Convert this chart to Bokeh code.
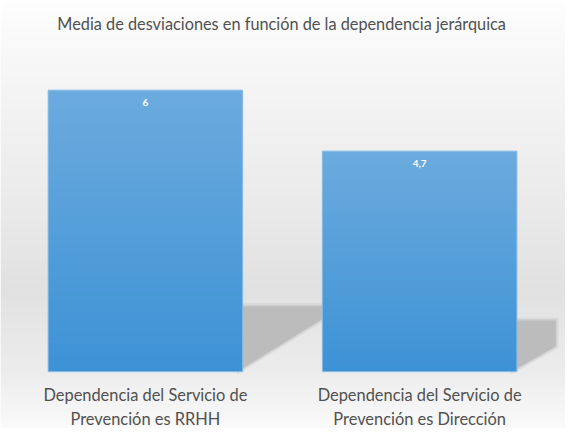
import numpy as np
from bokeh.plotting import figure
from bokeh.models import ColumnDataSource, Range1d
from bokeh.core.properties import value
from bokeh.embed import file_html
from bokeh.resources import INLINE

# ---- data ----
title_text = "Media de desviaciones en función de la dependencia jerárquica"
categories = ["Dependencia del Servicio de\nPrevención es RRHH",
              "Dependencia del Servicio de\nPrevención es Dirección"]
values = [6.0, 4.7]
value_labels = ["6", "4,7"]

# ---- layout / style ----
W, H = 565, 428
SX, SY = W / 581.0, H / 444.0          # reference -> figure scale
PX_X = 282.0 * SX                      # pixels per x unit
X0_PX = 149.0 * SX - 0.5 * PX_X        # pixel column of x = 0
BASE_PX = 385.0 * SY                   # pixel row of y = 0
PX_Y = (292.0 * SY) / 6.0              # pixels per y unit
FONT = "Lato"

def yd(ref_px):
    return (BASE_PX - ref_px * SY) / PX_Y

def hex2rgb(h):
    h = h.lstrip("#")
    return np.array([int(h[i:i + 2], 16) for i in (0, 2, 4)], dtype=float)

def rgb2hex(c):
    c = np.clip(np.round(c), 0, 255).astype(int)
    return "#%02x%02x%02x" % tuple(c)

x_start = -X0_PX / PX_X
x_end = x_start + W / PX_X
p = figure(width=W, height=H, output_backend="svg", toolbar_location=None,
           x_range=Range1d(x_start, x_end), y_range=Range1d(yd(444), yd(0)),
           min_border=0, outline_line_color=None)
p.axis.visible = False
p.grid.visible = False
p.background_fill_color = "#ffffff"
p.border_fill_color = "#ffffff"

# background gradient (vertical), stops in reference pixels
stops_px = np.array([0, 60, 200, 300, 385, 444])
stops_col = [hex2rgb(c) for c in ["#fefefe", "#f7f7f7", "#ebebeb", "#e1e1e1", "#ececec", "#fafafa"]]
n_bg = 150
edges = np.linspace(0, 444, n_bg + 1)
bg_cols, bg_top, bg_bot = [], [], []
for i in range(n_bg):
    m = 0.5 * (edges[i] + edges[i + 1])
    c = np.array([np.interp(m, stops_px, [s[k] for s in stops_col]) for k in range(3)])
    bg_cols.append(rgb2hex(c))
    bg_top.append(yd(edges[i]))
    bg_bot.append(yd(edges[i + 1] + 1.0))
p.quad(left=x_start, right=x_end, top=bg_top, bottom=bg_bot,
       fill_color=bg_cols, line_color=None)

x = np.arange(len(values)) + 0.5
bw = 200.0 * SX / PX_X

# shadows (depths in reference pixels)
shadow_depth_px = [100.0, 40.0]
for xi, v, dpx in zip(x, values, shadow_depth_px):
    xr = xi + bw / 2
    d = dpx * SX / PX_X
    top = v * 0.232
    slant_end = (dpx * 0.66 * SY) / PX_Y
    for grow, alpha in [(3, 0.22), (1.5, 0.35), (0, 0.9)]:
        gx = grow / PX_X
        gy = grow / PX_Y
        xs = [xr - 0.02, xr + d + gx, xr + d + gx, xr - 0.02]
        ys = [top + gy, top + gy, slant_end - gy * 0.5, -gy]
        p.patch(xs, ys, fill_color="#b9b9b9", fill_alpha=alpha, line_color=None)

# bars with vertical gradient (strips drawn bottom-up, slightly overlapping)
top_col = hex2rgb("#6cabde")
bot_col = hex2rgb("#3d92d5")
n_str = 60
ov = 1.2 / PX_Y
for xi, v in zip(x, values):
    e = np.linspace(0, v, n_str + 1)
    t = (0.5 * (e[:-1] + e[1:])) / v
    cols = [rgb2hex(bot_col + (top_col - bot_col) * tt) for tt in t]
    tops = np.minimum(e[1:] + ov, v)
    p.quad(left=xi - bw / 2, right=xi + bw / 2, bottom=e[:-1], top=tops,
           fill_color=cols, line_color=None)
p.vbar(x=x, width=bw, top=values, bottom=0, fill_color=None,
       line_color="#86bbe6", line_width=1)

# value labels
lsrc = ColumnDataSource(dict(x=x, y=[v - 13.0 * SY / PX_Y for v in values], t=value_labels))
p.text(x="x", y="y", text="t", source=lsrc, text_align="center", text_baseline="middle",
       text_color="#ffffff", text_font=value(FONT), text_font_style="bold",
       text_font_size="10px")

# category labels
csrc = ColumnDataSource(dict(x=x, y=[yd(421.5)] * len(x), t=categories))
p.text(x="x", y="y", text="t", source=csrc, text_align="center", text_baseline="middle",
       text_color="#505050", text_font=value(FONT), text_font_size="16.4px",
       text_line_height=1.26)

# title
p.text(x=[(x_start + x_end) / 2 - 0.005], y=[yd(23.5)], text=[title_text], text_align="center",
       text_baseline="middle", text_color="#505050", text_font=value(FONT),
       text_font_size="16.3px")

open("out.html", "w").write(file_html(p, INLINE))
